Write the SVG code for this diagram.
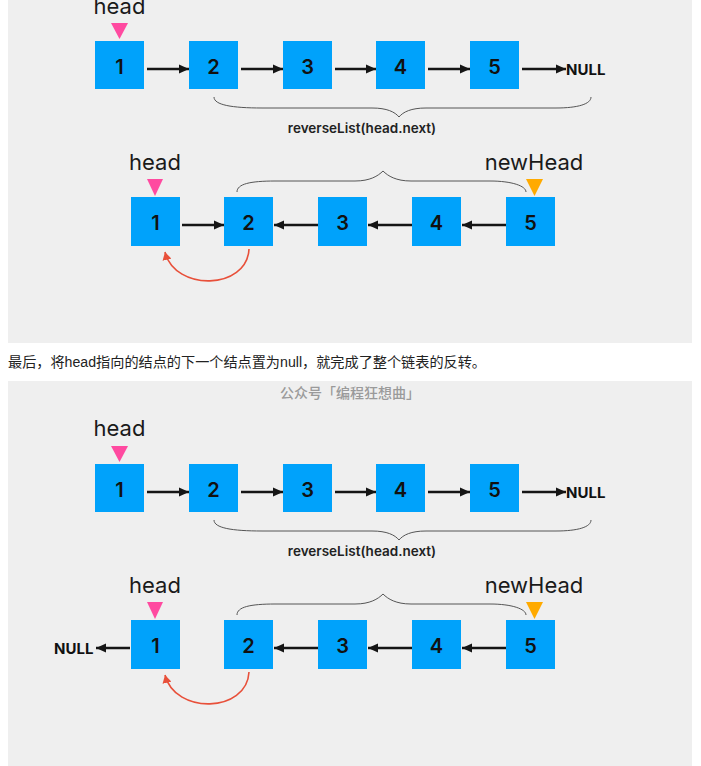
<svg xmlns="http://www.w3.org/2000/svg" width="701" height="766" viewBox="0 0 701 766">
<style>
.panel{fill:#efefef}
.box{fill:#00a2fb}
.num{font-family:Inter,"Noto Sans","Liberation Sans",sans-serif;font-size:20px;font-weight:600;fill:#111;text-anchor:middle}
.lbl{font-family:Inter,"Noto Sans","Liberation Sans",sans-serif;font-size:22px;font-weight:400;fill:#1a1a1a;text-anchor:middle}
.null{font-family:Inter,"Noto Sans","Liberation Sans",sans-serif;font-size:15px;font-weight:700;fill:#111}
.fn{font-family:Inter,"Noto Sans","Liberation Sans",sans-serif;font-size:13.5px;font-weight:600;fill:#222;text-anchor:middle}
.arr{stroke:#151515;stroke-width:2.5;fill:none;marker-end:url(#ah)}
.red{stroke:#e8503a;stroke-width:1.6;fill:none;marker-end:url(#rh)}
.brace{stroke:#555;stroke-width:1;fill:none}
.pink{fill:#ff4aa0}
.orange{fill:#ffaa00}
.cap{font-family:"Liberation Sans","Noto Sans CJK SC",sans-serif;font-size:14px;fill:#222}
.wm{font-family:"Noto Sans CJK SC",sans-serif;font-size:14px;font-weight:500;fill:#9a9a9a;text-anchor:middle}
</style>
<defs>
<marker id="ah" markerUnits="userSpaceOnUse" markerWidth="11" markerHeight="10" refX="10" refY="5" orient="auto"><path d="M0,0.5 L10,5 L0,9.5 z" fill="#151515"/></marker>
<marker id="rh" markerUnits="userSpaceOnUse" markerWidth="9" markerHeight="9" refX="8" refY="4.5" orient="auto"><path d="M0,0 L8,4.5 L0,9 z" fill="#e8503a"/></marker>
</defs>
<rect x="0" y="0" width="701" height="766" fill="#ffffff"/>

<g id="panel1">
<rect class="panel" x="8" y="0" width="684" height="343"/>
<g id="p1-head1"><text class="lbl" x="119.5" y="14">head</text><polygon class="pink" points="111,23 128,23 119.5,39"/></g>
<g id="p1-a1"><rect class="box" x="95" y="41" width="49" height="48"/><text class="num" x="119.5" y="74">1</text></g>
<g id="p1-a2"><rect class="box" x="189" y="41" width="49" height="48"/><text class="num" x="213.5" y="74">2</text></g>
<g id="p1-a3"><rect class="box" x="283" y="41" width="49" height="48"/><text class="num" x="307.5" y="74">3</text></g>
<g id="p1-a4"><rect class="box" x="376" y="41" width="49" height="48"/><text class="num" x="400.5" y="74">4</text></g>
<g id="p1-a5"><rect class="box" x="470" y="41" width="49" height="48"/><text class="num" x="494.5" y="74">5</text></g>
<g id="p1-null1"><text class="null" x="566" y="75">NULL</text></g>
<g id="p1-brace1"><path class="brace" d="M214,97 C214,105 232,108 262,108 L372,108 C387,108 395,112 399,117 C403,112 411,108 426,108 L556,108 C578,108 591,104 591,97"/><text class="fn" x="362" y="133">reverseList(head.next)</text></g>
<g id="p1-head2"><text class="lbl" x="155" y="170">head</text><polygon class="pink" points="147,179 163,179 155,196"/></g>
<g id="p1-newhead"><text class="lbl" x="534" y="170">newHead</text><polygon class="orange" points="526,179 543,179 534.5,196"/></g>
<g id="p1-b1"><rect class="box" x="131" y="197" width="49" height="49"/><text class="num" x="155.5" y="230">1</text></g>
<g id="p1-b2"><rect class="box" x="224" y="197" width="49" height="49"/><text class="num" x="248.5" y="230">2</text></g>
<g id="p1-b3"><rect class="box" x="318" y="197" width="49" height="49"/><text class="num" x="342.5" y="230">3</text></g>
<g id="p1-b4"><rect class="box" x="412" y="197" width="49" height="49"/><text class="num" x="436.5" y="230">4</text></g>
<g id="p1-b5"><rect class="box" x="506" y="197" width="49" height="49"/><text class="num" x="530.5" y="230">5</text></g>
<g id="p1-brace2"><path class="brace" d="M237,192 C237,184 250,181 275,181 L355,181 C370,181 378,176 383,171 C388,176 396,181 411,181 L490,181 C512,181 526,186 526,192"/></g>
<g id="p1-connectors">
<line class="arr" x1="147" y1="69" x2="189" y2="69"/>
<line class="arr" x1="241" y1="69" x2="283" y2="69"/>
<line class="arr" x1="335" y1="69" x2="376" y2="69"/>
<line class="arr" x1="428" y1="69" x2="470" y2="69"/>
<line class="arr" x1="522" y1="69" x2="566" y2="69"/>
<line class="arr" x1="182" y1="225" x2="224" y2="225"/>
<line class="arr" x1="318" y1="225" x2="274" y2="225"/>
<line class="arr" x1="412" y1="225" x2="368" y2="225"/>
<line class="arr" x1="506" y1="225" x2="462" y2="225"/>
<path class="red" d="M249,249 C247,290 175,292 165,252"/>
</g>
</g>

<text class="cap" x="8" y="367" textLength="478" lengthAdjust="spacingAndGlyphs">最后，将head指向的结点的下一个结点置为null，就完成了整个链表的反转。</text>

<g id="panel2">
<rect class="panel" x="8" y="381" width="684" height="385"/>
<text class="wm" x="350" y="398">公众号「编程狂想曲」</text>
<g id="p2-head1"><text class="lbl" x="119.5" y="436">head</text><polygon class="pink" points="111,446 128,446 119.5,462"/></g>
<g id="p2-a1"><rect class="box" x="95" y="464" width="49" height="48"/><text class="num" x="119.5" y="497">1</text></g>
<g id="p2-a2"><rect class="box" x="189" y="464" width="49" height="48"/><text class="num" x="213.5" y="497">2</text></g>
<g id="p2-a3"><rect class="box" x="283" y="464" width="49" height="48"/><text class="num" x="307.5" y="497">3</text></g>
<g id="p2-a4"><rect class="box" x="376" y="464" width="49" height="48"/><text class="num" x="400.5" y="497">4</text></g>
<g id="p2-a5"><rect class="box" x="470" y="464" width="49" height="48"/><text class="num" x="494.5" y="497">5</text></g>
<g id="p2-null1"><text class="null" x="566" y="498">NULL</text></g>
<g id="p2-brace1"><path class="brace" d="M214,520 C214,528 232,531 262,531 L372,531 C387,531 395,535 399,540 C403,535 411,531 426,531 L556,531 C578,531 591,527 591,520"/><text class="fn" x="362" y="556">reverseList(head.next)</text></g>
<g id="p2-head2"><text class="lbl" x="155" y="593">head</text><polygon class="pink" points="147,602 163,602 155,619"/></g>
<g id="p2-newhead"><text class="lbl" x="534" y="593">newHead</text><polygon class="orange" points="526,602 543,602 534.5,619"/></g>
<g id="p2-null2"><text class="null" x="54" y="654">NULL</text></g>
<g id="p2-b1"><rect class="box" x="131" y="620" width="49" height="49"/><text class="num" x="155.5" y="653">1</text></g>
<g id="p2-b2"><rect class="box" x="224" y="620" width="49" height="49"/><text class="num" x="248.5" y="653">2</text></g>
<g id="p2-b3"><rect class="box" x="318" y="620" width="49" height="49"/><text class="num" x="342.5" y="653">3</text></g>
<g id="p2-b4"><rect class="box" x="412" y="620" width="49" height="49"/><text class="num" x="436.5" y="653">4</text></g>
<g id="p2-b5"><rect class="box" x="506" y="620" width="49" height="49"/><text class="num" x="530.5" y="653">5</text></g>
<g id="p2-brace2"><path class="brace" d="M237,615 C237,607 250,604 275,604 L355,604 C370,604 378,599 383,594 C388,599 396,604 411,604 L490,604 C512,604 526,609 526,615"/></g>
<g id="p2-connectors">
<line class="arr" x1="147" y1="492" x2="189" y2="492"/>
<line class="arr" x1="241" y1="492" x2="283" y2="492"/>
<line class="arr" x1="335" y1="492" x2="376" y2="492"/>
<line class="arr" x1="428" y1="492" x2="470" y2="492"/>
<line class="arr" x1="522" y1="492" x2="566" y2="492"/>
<line class="arr" x1="130" y1="648" x2="96" y2="648"/>
<line class="arr" x1="318" y1="648" x2="274" y2="648"/>
<line class="arr" x1="412" y1="648" x2="368" y2="648"/>
<line class="arr" x1="506" y1="648" x2="462" y2="648"/>
<path class="red" d="M249,672 C247,713 175,715 165,675"/>
</g>
</g>
</svg>
